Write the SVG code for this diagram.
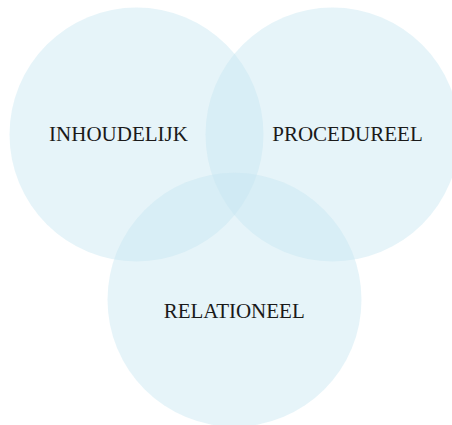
<svg xmlns="http://www.w3.org/2000/svg" width="452" height="425" viewBox="0 0 452 425">
  <style>
    .set { fill: #c6e6f1; fill-opacity: 0.44; }
    .label { font-family: "Liberation Serif", "Times New Roman", serif; font-size: 21px; fill: #1a1a1a; text-anchor: middle; }
  </style>
  <rect width="452" height="425" fill="#ffffff"/>
  <g id="inhoudelijk">
    <circle class="set" cx="136.5" cy="134.5" r="127"/>
  </g>
  <g id="procedureel">
    <circle class="set" cx="332.5" cy="134.5" r="127"/>
  </g>
  <g id="relationeel">
    <circle class="set" cx="234.5" cy="299.7" r="127"/>
  </g>
  <g id="labels">
    <text class="label" x="118.5" y="141">INHOUDELIJK</text>
    <text class="label" x="347.5" y="141">PROCEDUREEL</text>
    <text class="label" x="234.2" y="318.3">RELATIONEEL</text>
  </g>
</svg>
